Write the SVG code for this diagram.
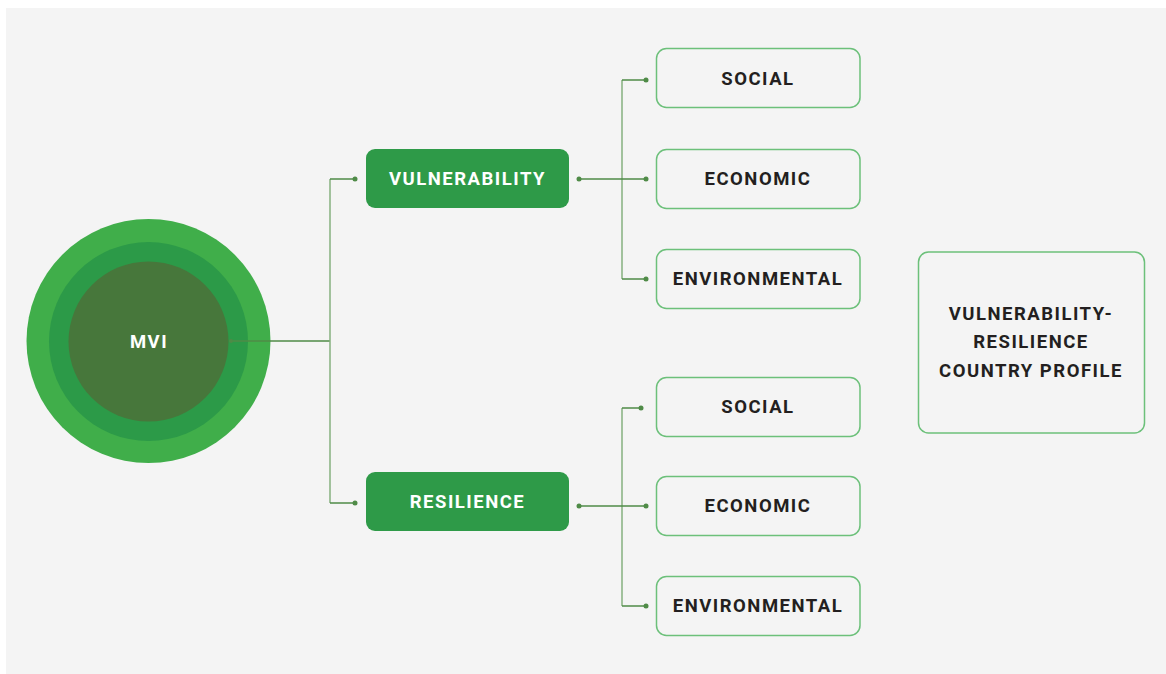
<svg xmlns="http://www.w3.org/2000/svg" width="1166" height="674" viewBox="0 0 1166 674">
<style>
.lbl{font-family:Roboto,"Liberation Sans",sans-serif;font-weight:700;font-size:18.5px;letter-spacing:1.5px;text-anchor:middle;dominant-baseline:central}
.w{fill:#ffffff}
.d{fill:#231f20}
.box{fill:#f4f4f4;stroke:#6cc07a;stroke-width:1.5}
.gbox{fill:#2e9a48}
.h{stroke:#4f8b47;stroke-width:1.5;fill:none}
.v{stroke:#86b07f;stroke-width:1.5;fill:none}
.dot{fill:#4f8b47}
</style>
<rect x="6" y="8" width="1160" height="666" fill="#f4f4f4"/>
<g id="mvi">
<circle cx="148.5" cy="341" r="122" fill="#40ae4a"/>
<circle cx="148.5" cy="341.5" r="99.5" fill="#2c9a48"/>
<circle cx="148.5" cy="341.5" r="80" fill="#47773b"/>
<text class="lbl w" x="149" y="342">MVI</text>
</g>
<g id="connectors">
<path class="h" d="M231 341 H330"/>
<path class="v" d="M330 179 V503"/>
<path class="h" d="M330 179 H355"/>
<path class="h" d="M330 503 H355"/>
<circle class="dot" cx="355" cy="179" r="2.5"/>
<circle class="dot" cx="355" cy="503" r="2.5"/>
<circle class="dot" cx="231" cy="341" r="2"/>
<path class="v" d="M622 80 V279"/>
<path class="h" d="M579 179 H646"/>
<path class="h" d="M622 80 H646"/>
<path class="h" d="M622 279 H646"/>
<circle class="dot" cx="579" cy="179" r="2.5"/>
<circle class="dot" cx="646" cy="80" r="2.5"/>
<circle class="dot" cx="646" cy="179" r="2.5"/>
<circle class="dot" cx="646" cy="279" r="2.5"/>
<path class="v" d="M622 408 V606"/>
<path class="h" d="M579 506 H646"/>
<path class="h" d="M622 408 H641"/>
<path class="h" d="M622 606 H646"/>
<circle class="dot" cx="579" cy="506" r="2.5"/>
<circle class="dot" cx="641" cy="408" r="2.5"/>
<circle class="dot" cx="646" cy="506" r="2.5"/>
<circle class="dot" cx="646" cy="606" r="2.5"/>
</g>
<g id="vulnerability">
<rect class="gbox" x="366" y="149" width="203" height="59" rx="9"/>
<text class="lbl w" x="467.5" y="179">VULNERABILITY</text>
</g>
<g id="resilience">
<rect class="gbox" x="366" y="472" width="203" height="59" rx="9"/>
<text class="lbl w" x="467.5" y="502">RESILIENCE</text>
</g>
<g id="v-social">
<rect class="box" x="656.5" y="48.5" width="203.5" height="59" rx="10"/>
<text class="lbl d" x="758" y="79">SOCIAL</text>
</g>
<g id="v-economic">
<rect class="box" x="656.5" y="149.5" width="203.5" height="59" rx="10"/>
<text class="lbl d" x="758" y="179">ECONOMIC</text>
</g>
<g id="v-environmental">
<rect class="box" x="656.5" y="249.5" width="203.5" height="59" rx="10"/>
<text class="lbl d" x="758" y="279">ENVIRONMENTAL</text>
</g>
<g id="r-social">
<rect class="box" x="656.5" y="377.5" width="203.5" height="59" rx="10"/>
<text class="lbl d" x="758" y="407">SOCIAL</text>
</g>
<g id="r-economic">
<rect class="box" x="656.5" y="476.5" width="203.5" height="59" rx="10"/>
<text class="lbl d" x="758" y="506">ECONOMIC</text>
</g>
<g id="r-environmental">
<rect class="box" x="656.5" y="576.5" width="203.5" height="59" rx="10"/>
<text class="lbl d" x="758" y="606">ENVIRONMENTAL</text>
</g>
<g id="profile">
<rect class="box" x="918.5" y="252" width="226" height="181" rx="10"/>
<text class="lbl d" x="1031" y="314">VULNERABILITY-</text>
<text class="lbl d" x="1031" y="342">RESILIENCE</text>
<text class="lbl d" x="1031" y="371">COUNTRY PROFILE</text>
</g>
</svg>
